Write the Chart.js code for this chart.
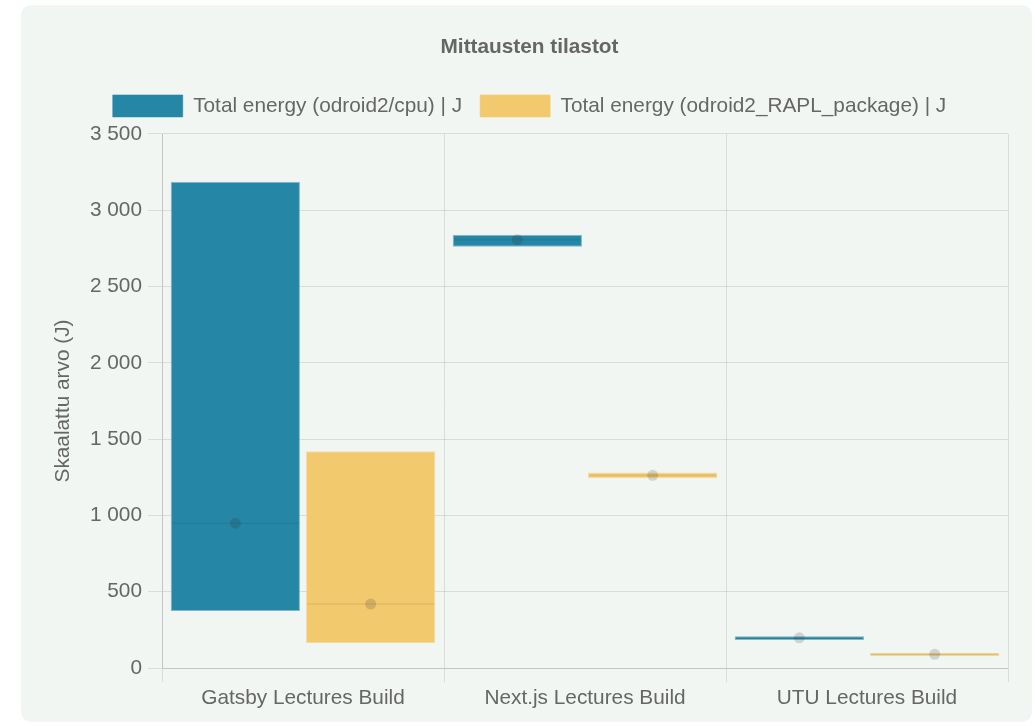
<!DOCTYPE html>
<html>
<head>
<meta charset="utf-8">
<script src="https://cdn.jsdelivr.net/npm/chart.js@4.4.1/dist/chart.umd.min.js"></script>
<style>
  html, body { margin: 0; background: #fff; }
  .card {
    position: absolute; left: 21px; top: 5px; width: 1011px; height: 717px;
    background: #f2f6f3; border-radius: 10px;
  }
</style>
</head>
<body>
<div class="card"><canvas id="chart"></canvas></div>
<script>
// Categories and series (in J)
const categories = ["Gatsby Lectures Build", "Next.js Lectures Build", "UTU Lectures Build"]
const seriesNames = ["Total energy (odroid2/cpu) | J", "Total energy (odroid2_RAPL_package) | J"]
const cpuMin = [373, 2761, 183]
const cpuMax = [3186, 2839, 209]
const cpuMid = [949, 2807, 198]
const raplMin = [164, 1243, 78]
const raplMax = [1420, 1282, 98]
const raplMid = [419, 1263, 90]
const yTicks = [0, 500, 1000, 1500, 2000, 2500, 3000, 3500]

const FONT = "'Liberation Sans', Arial, Helvetica, sans-serif"
const TEXT = "#666"
const GRID = "rgba(0,0,0,0.1)"
const BLUE = "rgb(38,134,166)"
const YELLOW = "rgb(242,201,109)"

Chart.defaults.font.family = FONT
Chart.defaults.font.size = 20.8
Chart.defaults.color = TEXT

// Put the marker points on top of the bar they belong to
const alignToBars = {
  id: "alignToBars",
  afterDatasetsUpdate(chart) {
    chart.data.datasets.forEach((ds, i) => {
      if (ds.barIndex === undefined) return
      const bars = chart.getDatasetMeta(ds.barIndex).data
      chart.getDatasetMeta(i).data.forEach((pt, j) => { pt.x = bars[j].x })
    })
  },
}

// A bit more room under the legend
const legendGap = {
  id: "legendGap",
  beforeInit(chart) {
    const fit = chart.legend.fit
    chart.legend.fit = function () {
      fit.call(this)
      this.height += 7
    }
  },
}

const fmt = (v) => String(v).replace(/\B(?=(\d{3})+(?!\d))/g, " ")

const bar = (label, mins, maxs, color, border) => ({
  type: "bar",
  label,
  data: mins.map((m, i) => [m, maxs[i]]),
  backgroundColor: color,
  borderColor: border,
  borderWidth: 1,
  borderSkipped: false,
  order: 2,
})

const midLine = (values, barIndex) => ({
  type: "line",
  label: "mid",
  barIndex,
  data: values,
  showLine: false,
  pointStyle: "line",
  pointRadius: 64,
  pointBorderWidth: 2,
  pointBorderColor: "rgba(0,0,0,0.05)",
  order: 1,
})

const midPoint = (values, barIndex) => ({
  type: "line",
  label: "mid",
  barIndex,
  data: values,
  showLine: false,
  pointStyle: "circle",
  pointRadius: 5.5,
  pointBorderWidth: 0,
  pointBackgroundColor: "rgba(40,40,40,0.17)",
  order: 0,
})

new Chart(document.getElementById("chart"), {
  data: {
    labels: categories,
    datasets: [
      bar(seriesNames[0], cpuMin, cpuMax, BLUE, "rgba(38,134,166,0.55)"),
      bar(seriesNames[1], raplMin, raplMax, YELLOW, "rgba(242,201,109,0.6)"),
      midLine(cpuMid, 0),
      midLine(raplMid, 1),
      midPoint(cpuMid, 0),
      midPoint(raplMid, 1),
    ],
  },
  plugins: [alignToBars, legendGap],
  options: {
    responsive: true,
    maintainAspectRatio: false,
    animation: false,
    layout: { autoPadding: false, padding: { left: 30, right: 24, top: 20, bottom: 7 } },
    datasets: { bar: { categoryPercentage: 0.96, barPercentage: 0.955 } },
    plugins: {
      title: {
        display: true,
        text: "Mittausten tilastot",
        color: TEXT,
        font: { size: 20.8, weight: "bold" },
        padding: { top: 10, bottom: 17 },
      },
      legend: {
        labels: {
          boxWidth: 70,
          boxHeight: 22,
          padding: 18,
          filter: (item) => item.text !== "mid",
        },
      },
      tooltip: { enabled: false },
    },
    scales: {
      x: {
        grid: { color: GRID, offset: true, tickLength: 14 },
        border: { color: GRID },
        ticks: { padding: 4 },
      },
      y: {
        min: yTicks[0],
        max: yTicks[yTicks.length - 1],
        stacked: false,
        afterBuildTicks: (axis) => { axis.ticks = yTicks.map((value) => ({ value })) },
        grid: { color: GRID, tickLength: 14 },
        border: { color: GRID },
        ticks: { padding: 6, callback: (v) => fmt(v) },
        title: { display: true, text: "Skaalattu arvo (J)", padding: { top: 0, bottom: 8 } },
      },
    },
  },
})
</script>
</body>
</html>
